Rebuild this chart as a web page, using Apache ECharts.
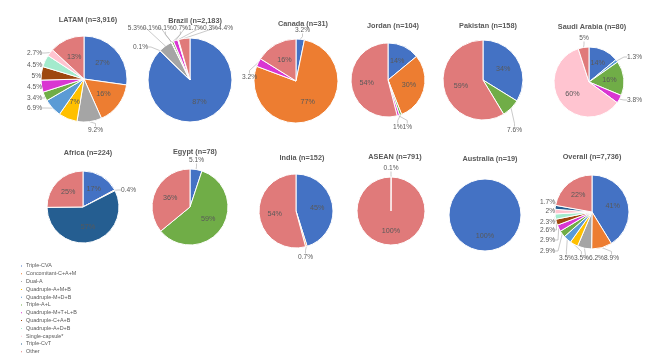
<!DOCTYPE html>
<html><head><meta charset="utf-8">
<script src="https://cdn.jsdelivr.net/npm/echarts@6/dist/echarts.min.js"></script>
<style>html,body{margin:0;padding:0;background:#fff}#c{width:645px;height:362px}</style>
</head><body><div id="c"></div>
<script>
const categories = ['Triple-CVA','Concomitant-C+A+M','Dual-A','Quadruple-A+M+B','Quadruple-M+D+B','Triple-A+L','Quadruple-M+T+L+B','Quadruple-C+A+B','Quadruple-A+D+B','Single-capsule*','Triple-CvT','Other'];
const colors = ['#4472C4','#ED7D31','#A5A5A5','#FFC000','#5B9BD5','#70AD47','#D936D2','#9E480E','#A3EBCD','#FFC4D0','#255E91','#E07A7A'];

const regions = ['LATAM (n=3,916)','Brazil (n=2,183)','Canada (n=31)','Jordan (n=104)','Pakistan (n=158)','Saudi Arabia (n=80)',
                 'Africa (n=224)','Egypt (n=78)','India (n=152)','ASEAN (n=791)','Australia (n=19)','Overall (n=7,736)'];

const latam     = [27, 16, 9.2, 7, 6.9, 3.4, 4.5, 5, 4.5, 2.7, 0, 13];
const brazil    = [87, 0.1, 5.3, 0.1, 0.1, 0.7, 1.7, 0, 0, 0.3, 0, 4.4];
const canada    = [3.2, 77, 0, 0, 0, 0, 3.2, 0, 0, 0, 0, 16];
const jordan    = [14, 30, 0, 0, 0, 1, 1, 0, 0, 0, 0, 54];
const pakistan  = [34, 0, 0, 0, 0, 7.6, 0, 0, 0, 0, 0, 59];
const saudi     = [14, 0, 0, 0, 1.3, 16, 3.8, 0, 0, 60, 0, 5];
const africa    = [17, 0.4, 0, 0, 0, 0, 0, 0, 0, 0, 57, 25];
const egypt     = [5.1, 0, 0, 0, 0, 59, 0, 0, 0, 0, 0, 36];
const india     = [45, 0.7, 0, 0, 0, 0, 0, 0, 0, 0, 0, 54];
const asean     = [0.1, 0, 0, 0, 0, 0, 0, 0, 0, 0, 0, 99.9];
const australia = [100, 0, 0, 0, 0, 0, 0, 0, 0, 0, 0, 0];
const overall   = [41, 8.9, 6.2, 3.5, 3.5, 2.9, 2.9, 2.6, 2.3, 2, 1.7, 22];

const allValues = [latam, brazil, canada, jordan, pakistan, saudi, africa, egypt, india, asean, australia, overall];

// ---- layout / style (not data) ----
const centers = [[84,79],[190,80],[296,81],[388,80],[483,80],[589,82],
                 [83,207],[190,207],[296,211],[391,211],[485,215],[592,212]];
const radii = [43,42,42,37,40,35,36,38,37,34,36,37];
const titlePos = [[83,16],[190,17],[298,20],[388,22],[483,22],[587,23],
                  [83,149],[190,148],[297,154],[390,153],[485,155],[587,153]];
const FONT = 'Liberation Sans, Arial, sans-serif';
const LFS = 6.6;
const insideForce = { 0: [3] };   // series -> category indices labelled inside

function fmt(v){ return (v >= 10 ? Math.round(v) : v) + '%'; }

const ctx = document.createElement('canvas').getContext('2d');
ctx.font = LFS + 'px ' + FONT;
function tw(s){ return ctx.measureText(s).width; }

// label spots: series -> {category: [dx, dy, align]} relative to pie center
const spots = {
  0: {9:[-42,-26,'right'],8:[-42,-14,'right'],7:[-43,-3,'right'],6:[-42,8,'right'],5:[-42,19,'right'],4:[-42,29,'right'],2:[4,51,'left']},
  2: {0:[-1,-51,'left'],6:[-39,-4,'right']},
  4: {5:[24,50,'left']},
  5: {4:[38,-25,'left'],6:[38,18,'left'],11:[-5,-44,'center']},
  6: {1:[38,-17,'left']},
  7: {0:[-1,-47,'left']},
  8: {1:[2,46,'left']},
  9: {0:[0,-43,'center']}
};
function row(si, cats, vals, rightEdge, startLeft, dy){
  spots[si] = spots[si] || {};
  const ws = cats.map(k => tw(fmt(vals[k])));
  const total = ws.reduce((a,b)=>a+b,0);
  let x = rightEdge != null ? rightEdge - total : startLeft;
  cats.forEach((k, j) => { spots[si][k] = [x, dy, 'left']; x += ws[j]; });
}
// Brazil: one label left, the rest in a row above the pie
spots[1] = {1:[-42,-33,'right']};
row(1, [2,3,4,5,6,9,11], brazil, 43, null, -52);
// Jordan: row below
row(3, [5,6], jordan, null, 5, 47);
// Overall: column on the left, row below
spots[11] = {10:[-37,-10,'right'],9:[-37,-1,'right'],8:[-37,10,'right'],7:[-37,18,'right'],6:[-37,28,'right'],5:[-37,39,'right']};
row(11, [4,3,2,1], overall, 27, null, 46);

const series = allValues.map((vals, i) => {
  const items = vals.map((v, k) => ({ v, k })).filter(o => o.v > 0);
  const cats = items.map(o => o.k);
  const cx = centers[i][0], cy = centers[i][1];
  return {
    type: 'pie',
    name: regions[i],
    center: centers[i],
    radius: radii[i],
    startAngle: 90,
    clockwise: true,
    animation: false,
    avoidLabelOverlap: false,
    itemStyle: { borderColor: '#fff', borderWidth: 1 },
    label: { fontSize: LFS, color: '#595959', fontFamily: FONT },
    labelLine: { length: 4, length2: 3, lineStyle: { color: '#A6A6A6', width: 0.6 } },
    labelLayout: function (p) {
      const k = cats[p.dataIndex];
      const s = spots[i] && spots[i][k];
      if (!s) return {};
      return { x: cx + s[0], y: cy + s[1], align: s[2], verticalAlign: 'middle' };
    },
    data: items.map(o => {
      const inside = o.v >= 10 || (insideForce[i] && insideForce[i].includes(o.k));
      return {
        name: categories[o.k],
        value: o.v,
        itemStyle: { color: colors[o.k] },
        label: { position: inside ? 'inside' : 'outside', formatter: fmt(o.v), fontSize: inside ? 7.2 : LFS },
        labelLine: { show: !inside }
      };
    })
  };
});

const titles = regions.map((t, i) => ({
  text: t, left: titlePos[i][0], top: titlePos[i][1] - 5, textAlign: 'center',
  textStyle: { fontSize: 7.3, fontWeight: 'bold', color: '#595959', fontFamily: FONT }
}));

const chart = echarts.init(document.getElementById('c'), null, { renderer: 'canvas' });
chart.setOption({
  backgroundColor: '#fff',
  animation: false,
  title: titles,
  legend: {
    orient: 'vertical', left: 14, top: 258,
    icon: 'rect', itemWidth: 3, itemHeight: 3, itemGap: 1.8,
    data: categories,
    selectedMode: false,
    textStyle: { fontSize: 5.4, lineHeight: 6, color: '#595959', padding: [0,0,0,-2], fontFamily: FONT }
  },
  series
});
</script></body></html>
